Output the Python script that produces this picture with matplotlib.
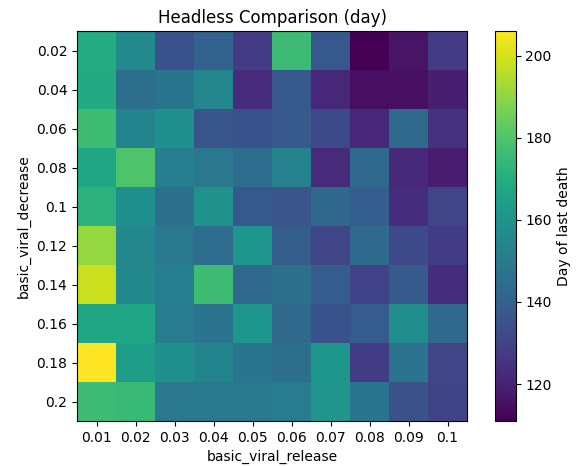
import matplotlib
matplotlib.use("Agg")
import matplotlib.pyplot as plt
import numpy as np

release = ["0.01", "0.02", "0.03", "0.04", "0.05", "0.06", "0.07", "0.08", "0.09", "0.1"]
decrease = ["0.02", "0.04", "0.06", "0.08", "0.1", "0.12", "0.14", "0.16", "0.18", "0.2"]

row_002 = [170, 156, 135, 141, 128, 176, 137, 111, 116, 128]
row_004 = [169, 146, 148, 155, 123, 137, 121.5, 115, 115, 119]
row_006 = [176.5, 154, 158.5, 136.5, 135, 137.5, 132, 122, 144, 125]
row_008 = [167, 180, 152, 149, 145, 153, 122.5, 143.5, 122, 118.5]
row_010 = [172, 158.5, 146, 159.5, 137, 136, 143, 139.5, 123.5, 131]
row_012 = [191, 155, 149, 145, 161, 139, 131, 144, 132, 128]
row_014 = [198.5, 155.5, 152, 176.5, 144, 146, 138.5, 130, 138, 123.5]
row_016 = [167, 167, 151, 147, 161, 144, 135, 138.5, 157.5, 144]
row_018 = [206, 164, 158.5, 154, 148, 146, 161, 128, 147, 131]
row_020 = [176, 175.5, 149, 149, 149.5, 151, 160.5, 148, 134.5, 130.5]

data = np.array([row_002, row_004, row_006, row_008, row_010,
                 row_012, row_014, row_016, row_018, row_020])

fig = plt.figure(figsize=(5.77, 4.66), dpi=100)
ax = fig.add_axes([77/577, 45/466, 390/577, 390/466])
cax = fig.add_axes([495/577, 45/466, 20.5/577, 390/466])

im = ax.imshow(data, cmap="viridis", aspect="auto")
ax.set_xticks(range(len(release)))
ax.set_xticklabels(release)
ax.set_yticks(range(len(decrease)))
ax.set_yticklabels(decrease)
ax.set_xlabel("basic_viral_release")
ax.set_ylabel("basic_viral_decrease")
ax.set_title("Headless Comparison (day)")

cb = fig.colorbar(im, cax=cax)
cb.set_label("Day of last death")

fig.savefig("out.png", dpi=100)
